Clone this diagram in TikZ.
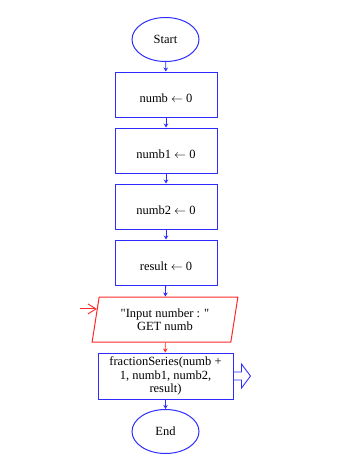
\documentclass[tikz,border=0pt]{standalone}
\usepackage{fontspec}
\setmainfont{Liberation Serif}
\usetikzlibrary{shapes.geometric,arrows.meta,calc}

\definecolor{flowblue}{RGB}{45,45,255}
\definecolor{flowred}{RGB}{255,40,40}

\begin{document}
\begin{tikzpicture}[x=1pt, y=-1pt,
        every node/.style={font=\fontsize{12.5}{13.5}\selectfont, text=black, align=center},
        term/.style={ellipse, draw=flowblue, line width=1pt, minimum width=67pt, minimum height=44pt, inner sep=0pt},
        assign/.style={rectangle, draw=flowblue, line width=1pt, minimum width=102pt, minimum height=45pt,
            text height=15pt, text depth=0pt},
        io/.style={trapezium, trapezium left angle=80, trapezium right angle=100, trapezium stretches=true,
            draw=flowred, line width=1pt, minimum width=146pt, minimum height=45pt},
        flow/.style={draw=flowblue, line width=0.9pt, -{Stealth[length=4pt, width=4.5pt]}}]
    \useasboundingbox (0, 0) rectangle (341, 471);

    \node (s) at (165.5, 39.5) [term] {Start};

    \node (n0) at (166, 94.5) [assign] {numb $\leftarrow$ 0};
    \node (n1) at (166, 150.5) [assign] {numb1 $\leftarrow$ 0};
    \node (n2) at (166, 206.5) [assign] {numb2 $\leftarrow$ 0};
    \node (r) at (166, 262.5) [assign] {result $\leftarrow$ 0};

    \node (in) at (165, 319.5) [io] {\textquotedbl Input number : \textquotedbl\\GET numb};

    \node (fs) at (165.5, 376) [rectangle, draw=flowblue, line width=1pt, minimum width=135pt, minimum height=46pt, inner sep=1pt] {
        fractionSeries(numb +\\1, numb1, numb2,\\result)
    };

    \node (e) at (165.5, 431.5) [term] {End};

    % incoming input arrow on the left side
    \coordinate (inhit) at ($(in.top left corner)!0.27!(in.bottom left corner)$);
    \coordinate (infrom) at ($(inhit)+(-17, 0)$);
    \draw[draw=flowred, line width=0.9pt, -{Straight Barb[length=8pt, width=10pt]}] (infrom) -- (inhit);

    % hollow call arrow
    \draw[draw=flowblue, line width=0.9pt, line join=miter]
        ($(fs.east)+(0, -4)$) -- ++(8, 0) -- ++(0, -8) -- ++(9, 12) -- ++(-9, 12) -- ++(0, -8) -- ++(-8, 0);

    \draw[flow] (s) -- (n0);
    \draw[flow] (n0) -- (n1);
    \draw[flow] (n1) -- (n2);
    \draw[flow] (n2) -- (r);
    \draw[flow] (r) -- (in);
    \draw[flow, draw=flowred] (in) -- (fs);
    \draw[flow] (fs) -- (e);
\end{tikzpicture}
\end{document}
